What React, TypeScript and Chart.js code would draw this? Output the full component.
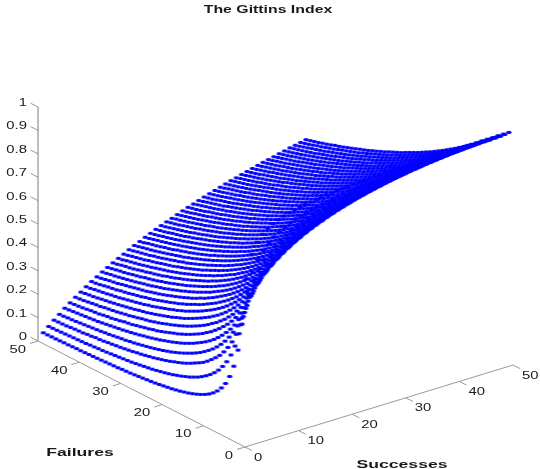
import React, { useEffect, useRef } from "react";
import { Chart, registerables } from "chart.js";

Chart.register(...registerables);

const titleText = "The Gittins Index";
const successLabel = "Successes";
const failureLabel = "Failures";
const indexTicks = [0, 0.1, 0.2, 0.3, 0.4, 0.5, 0.6, 0.7, 0.8, 0.9, 1];
const successTicks = [0, 10, 20, 30, 40, 50];
const failureTicks = [0, 10, 20, 30, 40, 50];

// Index values x1000, one list per success count (1..50), each running over failures 1..50.
// These are hand estimates: surface edges were read from the picture, while the dense
// interior, where single dots cannot be told apart, was estimated from the surface's shape.
const gittinsBySuccess = [
[703,500,380,302,249,210,182,160,143,129,118,109,101,94,88,83,78,74,70,67,64,61,58,56,54,52,50,48,46,45,44,42,41,40,39,38,37,36,35,34,33,33,32,31,31,30,29,29,28,28],
[800,635,516,434,372,325,287,258,233,213,196,182,169,158,149,140,133,126,120,114,109,104,100,96,92,89,86,83,80,77,75,73,71,69,67,65,63,62,60,59,57,56,55,54,53,52,51,50,49,48],
[845,707,601,518,456,406,365,332,304,280,261,244,228,214,203,193,183,174,166,159,153,146,140,135,130,125,121,117,113,110,106,103,100,97,95,92,90,87,85,84,81,80,77,76,75,73,71,70,69,68],
[872,754,658,581,519,468,426,390,360,334,311,291,273,258,244,231,220,210,201,192,184,177,170,164,158,153,148,143,139,135,131,127,124,120,118,115,112,109,107,104,102,100,98,96,94,92,90,89,87,86],
[890,787,700,627,566,516,474,437,405,378,355,334,315,298,283,270,258,247,236,227,218,210,203,196,190,184,178,173,168,163,159,154,150,146,143,139,136,133,130,127,124,121,119,117,115,113,111,109,107,105],
[904,812,732,668,610,560,518,481,449,421,396,374,355,337,321,306,293,280,269,259,249,240,232,224,218,211,204,198,192,188,182,178,173,169,164,161,158,153,150,146,144,141,137,135,133,130,127,125,123,121],
[914,831,755,700,645,596,554,518,485,457,432,409,389,370,354,338,325,311,299,288,278,268,259,251,243,236,229,223,216,210,205,199,195,191,186,182,177,174,170,166,163,160,157,153,151,148,145,142,140,138],
[922,846,774,725,675,628,587,551,518,490,465,442,421,402,384,368,353,340,327,316,305,295,285,276,267,260,253,245,239,233,227,221,216,210,206,202,197,193,189,185,181,178,174,171,168,164,161,159,156,153],
[929,859,794,744,698,655,615,579,547,519,493,470,449,429,412,395,380,366,353,341,330,319,309,300,291,282,275,267,261,254,248,242,236,230,226,220,216,211,207,203,199,194,191,188,184,181,178,175,171,169],
[934,870,809,764,719,677,638,605,572,544,518,496,474,455,436,420,404,390,377,364,353,342,331,321,313,304,295,288,280,274,267,261,255,249,243,238,234,228,224,220,215,211,208,203,200,197,193,189,186,184],
[939,879,823,779,737,697,660,626,595,567,542,518,497,477,459,442,427,412,399,386,374,362,352,341,333,323,314,307,299,292,285,279,272,266,260,255,250,244,240,236,232,227,223,219,214,211,208,204,200,197],
[944,887,835,793,752,714,679,645,615,587,563,539,518,499,479,463,447,432,418,405,393,382,371,360,351,342,333,325,317,310,302,296,289,283,276,271,266,260,255,251,246,241,237,233,229,225,221,218,214,211],
[947,893,846,806,766,729,695,663,634,606,582,558,537,517,499,482,466,451,437,424,411,399,389,378,368,359,350,342,334,326,318,312,305,299,292,286,281,275,270,265,261,255,251,247,242,238,235,231,227,223],
[950,898,855,817,779,743,710,679,650,623,599,576,556,536,518,501,485,470,455,442,429,417,406,395,385,376,366,358,350,342,334,327,320,314,307,301,296,289,284,279,275,269,265,260,255,251,248,244,239,236],
[952,902,863,826,790,755,724,694,665,639,615,593,572,552,534,517,501,486,471,459,446,433,423,412,401,392,382,374,365,357,349,342,335,328,321,315,309,303,298,293,288,282,278,273,268,264,260,256,251,248],
[955,907,870,835,800,767,737,708,680,654,631,608,588,568,550,533,517,502,487,474,461,449,438,427,416,407,397,389,380,372,363,356,349,342,335,329,323,316,311,306,301,295,290,286,280,276,272,268,263,259],
[957,911,877,844,810,778,748,720,693,668,644,622,602,582,564,547,531,517,502,489,476,464,452,442,431,421,411,403,394,386,377,370,362,355,348,341,336,329,324,318,313,307,302,298,292,288,284,280,275,271],
[960,915,883,851,819,788,759,731,705,680,657,635,615,596,578,561,545,530,516,503,490,478,466,456,445,435,425,416,407,399,390,383,375,368,361,354,348,341,336,330,325,319,314,309,304,299,295,291,286,282],
[962,919,889,858,827,797,769,742,716,692,669,648,628,609,591,575,559,544,530,516,503,491,479,469,458,448,438,429,420,412,403,396,387,380,373,366,360,353,348,342,337,330,325,321,315,310,306,302,296,292],
[964,922,894,864,834,805,778,751,727,703,680,659,639,621,603,587,571,556,542,529,516,503,492,481,470,460,451,441,432,424,415,408,399,392,385,378,371,365,359,353,347,342,336,331,326,321,317,312,307,303],
[966,925,898,870,841,813,786,760,736,712,690,670,651,632,614,599,583,568,554,540,528,515,504,493,483,472,462,453,444,435,427,418,411,403,396,389,382,376,370,364,358,352,347,341,336,331,327,321,317,313],
[968,928,902,875,847,820,794,768,745,722,701,680,661,643,626,609,594,579,566,552,539,527,515,504,493,483,473,464,454,446,438,429,422,414,407,400,393,387,381,374,368,363,356,351,346,342,336,331,327,323],
[969,931,906,880,852,826,801,777,753,731,709,689,671,653,635,620,604,590,576,563,550,537,526,514,504,493,484,475,465,457,448,440,433,425,418,410,403,397,391,384,378,373,366,361,356,351,346,341,336,332],
[970,933,909,884,858,832,807,784,761,739,719,699,680,662,645,629,614,599,586,572,560,548,537,525,515,504,495,485,476,467,458,451,442,435,428,420,413,407,401,394,388,383,376,371,366,361,355,350,346,341],
[971,935,912,888,862,837,813,791,768,747,726,707,689,671,654,639,623,609,595,583,569,558,546,535,524,514,504,495,486,477,468,460,452,445,437,430,423,416,409,404,398,391,386,380,375,369,364,359,355,349],
[972,938,915,892,867,843,819,797,775,754,735,715,697,680,663,647,633,618,605,591,579,567,556,545,534,524,514,504,495,486,478,469,462,453,446,439,433,425,419,413,406,400,395,389,383,378,373,368,363,358],
[973,940,918,895,871,847,824,802,782,762,742,722,705,688,671,656,641,627,613,600,588,576,565,553,543,532,523,513,504,496,487,479,470,463,455,449,441,434,428,421,415,409,404,397,392,387,382,376,371,367],
[974,942,920,898,874,852,830,808,788,768,748,730,712,695,679,663,649,635,622,608,596,585,573,562,551,542,532,522,513,504,496,487,479,472,463,457,450,443,436,430,424,417,411,406,401,394,389,384,380,375],
[974,944,922,902,879,857,835,814,793,774,755,736,718,702,686,671,656,643,629,617,605,593,582,570,560,550,540,531,521,513,504,495,488,480,472,465,458,451,444,438,432,425,420,414,408,403,398,393,388,382],
[975,946,925,904,882,860,839,818,799,780,761,743,726,709,694,678,664,650,637,625,612,601,589,579,568,558,548,539,529,521,512,504,496,488,481,474,466,459,453,446,440,434,428,421,416,411,406,401,395,390],
[976,948,927,907,885,864,844,824,804,785,767,749,732,716,700,686,671,658,645,632,620,608,597,587,576,566,556,546,538,529,520,512,504,496,489,481,474,467,461,454,448,442,435,429,424,419,413,407,403,398],
[977,949,929,910,889,868,848,828,808,790,772,755,738,722,707,692,678,665,651,639,627,616,605,593,583,574,563,554,546,536,528,520,511,504,497,489,482,475,468,461,455,449,443,437,432,426,420,415,410,405],
[977,950,931,912,891,871,851,832,814,795,778,760,743,728,712,698,685,671,659,646,634,623,611,601,591,580,571,562,552,544,536,527,519,512,503,496,489,482,475,469,462,456,450,445,438,433,428,422,417,412],
[978,951,933,914,894,874,855,837,818,800,783,765,749,733,719,705,691,678,665,653,641,629,618,608,597,588,578,568,560,551,542,534,526,518,511,504,496,489,483,476,469,463,458,451,445,440,435,430,424,419],
[978,952,934,916,897,878,858,840,822,805,787,771,754,739,724,710,697,683,671,659,647,636,625,614,604,595,585,576,567,557,549,541,533,525,518,510,503,496,489,483,477,471,464,458,452,447,441,436,431,426],
[979,953,936,918,899,880,861,843,826,809,792,775,760,745,730,716,702,690,678,665,654,643,631,621,611,601,591,583,573,564,556,547,540,532,524,517,510,502,496,490,484,477,471,465,459,453,448,443,438,433],
[980,954,937,920,901,883,865,847,830,813,796,780,765,749,736,721,708,696,683,671,660,648,638,628,617,607,598,588,580,571,562,554,547,538,531,524,516,509,503,497,489,483,477,472,465,460,454,449,444,438],
[980,955,939,922,904,886,867,850,834,817,801,785,769,755,740,727,714,701,689,677,665,654,644,633,623,614,604,595,586,577,569,561,552,545,538,530,523,516,510,502,496,490,484,477,472,466,461,456,450,445],
[981,956,940,924,905,888,871,854,837,821,805,789,774,759,745,732,718,706,694,682,671,660,649,639,629,619,610,601,592,583,575,566,559,551,543,536,529,521,515,509,502,495,490,484,478,473,466,461,456,451],
[981,957,941,925,908,891,873,856,840,824,808,793,778,764,750,736,724,711,699,688,676,665,655,644,634,625,615,606,598,589,580,573,565,557,549,542,534,528,521,515,508,502,496,490,485,478,473,468,462,457],
[982,958,943,927,909,892,875,859,843,828,812,797,782,768,754,741,728,716,704,692,681,671,660,650,640,630,621,612,603,594,586,579,570,563,555,547,541,534,527,520,514,508,502,495,490,484,479,474,468,463],
[982,959,943,928,912,895,878,862,847,831,815,801,786,772,759,745,733,721,709,697,687,675,665,655,645,636,627,617,609,600,591,584,576,569,560,553,547,539,533,526,520,513,507,501,496,490,484,479,474,469],
[983,960,945,930,913,897,880,864,849,834,819,804,790,776,762,750,738,725,714,703,691,681,671,660,650,641,631,623,614,605,597,589,581,573,566,559,552,545,538,532,525,519,513,507,501,495,490,485,479,474],
[983,961,946,931,915,899,883,867,852,837,822,808,793,780,767,753,741,730,717,706,696,686,675,665,656,646,637,628,619,611,603,595,586,579,572,564,557,551,544,537,531,525,519,512,506,501,496,490,485,479],
[984,962,947,932,916,900,884,869,854,840,826,810,797,784,770,758,746,733,722,711,700,690,680,669,660,651,641,632,624,616,607,599,592,584,577,570,563,555,549,542,536,530,523,518,512,507,501,495,490,485],
[984,963,948,933,918,903,887,872,857,842,828,814,800,787,774,761,749,738,726,715,705,694,684,674,665,655,646,638,629,620,612,605,596,589,582,574,567,561,554,548,541,535,529,523,517,511,506,500,495,490],
[984,964,949,935,919,904,888,874,859,846,831,817,803,790,777,765,753,741,730,719,708,698,688,679,669,660,651,642,633,625,618,609,602,594,586,579,573,566,559,552,546,540,534,527,522,516,511,506,501,496],
[985,965,949,935,921,906,891,876,862,848,834,820,806,793,781,768,756,745,733,723,713,703,692,683,674,664,655,647,638,630,622,614,607,598,591,584,577,570,564,557,551,545,538,533,527,522,516,511,505,500],
[985,966,950,937,922,907,892,878,864,851,837,822,809,797,784,772,760,748,738,727,716,706,697,687,677,668,660,651,642,634,626,619,611,603,596,588,582,575,569,563,556,549,544,538,532,527,521,515,510,505],
[985,967,951,938,923,909,894,880,866,852,839,825,812,799,787,775,763,752,741,730,720,710,700,691,682,673,663,655,647,639,630,623,615,608,600,593,587,580,573,567,560,554,549,542,536,531,525,520,515,510],
];

// Oblique view of the 3D box, in view units of the hidden linear scales.
const SX = 5.36, SY = 1.64, FX = -4.14, FY = 2.12, ZY = 234;
const viewX = (s: number, f: number) => s * SX + f * FX;
const viewY = (s: number, f: number, z: number) => z * ZY + s * SY + f * FY;
const pt = (s: number, f: number, z: number) => ({ x: viewX(s, f), y: viewY(s, f, z) });

const AXIS = "#9a9a9a";
const FONT = '"Liberation Sans", Arial, sans-serif';

// The reference's markers are wide, soft ellipses, so each curve reads as a strand.
function makeMarker() {
  const c = document.createElement("canvas");
  c.width = 8;
  c.height = 5;
  const g = c.getContext("2d") as CanvasRenderingContext2D;
  g.translate(4, 2.5);
  g.scale(3.5, 2.0);
  const grad = g.createRadialGradient(0, 0, 0, 0, 0, 1);
  grad.addColorStop(0, "rgba(0,0,255,1)");
  grad.addColorStop(0.55, "rgba(0,0,255,1)");
  grad.addColorStop(1, "rgba(0,0,255,0)");
  g.fillStyle = grad;
  g.beginPath();
  g.arc(0, 0, 1, 0, Math.PI * 2);
  g.fill();
  return c;
}

const axisLine = (a: any, b: any, color = AXIS) => ({
  data: [a, b],
  showLine: true,
  borderColor: color,
  borderWidth: 1,
  pointRadius: 0,
  order: 5,
});

function buildDatasets() {
  const marker = makeMarker();
  const curves = gittinsBySuccess.map((row, i) => ({
    data: row.map((v, j) => pt(i + 1, j + 1, v / 1000)),
    showLine: false,
    pointStyle: marker,
    pointRadius: 3,
    backgroundColor: "#0000ff",
    borderColor: "#0000ff",
    order: 1,
  }));
  const maxS = successTicks[successTicks.length - 1];
  const maxF = failureTicks[failureTicks.length - 1];
  const axes = [
    axisLine(pt(0, 0, 0), pt(maxS, 0, 0)),
    axisLine(pt(0, 0, 0), pt(0, maxF, 0)),
    axisLine(pt(0, maxF, 0), pt(0, maxF, 1), "#7c7c7c"),
    ...successTicks.map((s) => axisLine(pt(s, 0, 0), pt(s, -1.7, 0))),
    ...failureTicks.map((f) => axisLine(pt(0, f, 0), pt(-1.5, f, 0))),
    ...indexTicks.map((z) => axisLine(pt(0, 50, z), pt(0, 51.8, z))),
  ];
  return [...axes, ...curves];
}

function wideText(ctx: any, text: string, x: number, y: number, align: string, font: string, stretch: number) {
  ctx.save();
  ctx.font = font;
  ctx.fillStyle = "#1a1a1a";
  ctx.textBaseline = "middle";
  ctx.textAlign = align;
  ctx.translate(x, y + 1);
  ctx.scale(stretch, 1);
  ctx.fillText(text, 0, 0);
  ctx.restore();
}

const textPlugin = {
  id: "boxText",
  afterDatasetsDraw(chart: any) {
    const { ctx, scales } = chart;
    const px = (p: any) => [scales.x.getPixelForValue(p.x), scales.y.getPixelForValue(p.y)];
    const tickFont = `11px ${FONT}`;
    const boldFont = `bold 11px ${FONT}`;
    indexTicks.forEach((z) => {
      const [x, y] = px(pt(0, 50, z));
      wideText(ctx, String(z), x - 11, y - 5, "right", tickFont, 1.35);
    });
    failureTicks.forEach((f) => {
      const [x, y] = px(pt(0, f, 0));
      wideText(ctx, String(f), x - 12, y + 7.5, "right", tickFont, 1.35);
    });
    successTicks.forEach((s) => {
      const [x, y] = px(pt(s, 0, 0));
      wideText(ctx, String(s), x + 9, y + 9.5, "left", tickFont, 1.35);
    });
    wideText(ctx, titleText, chart.width / 2 - 2, 9, "center", boldFont, 1.44);
    wideText(ctx, failureLabel, 80, 452, "center", boldFont, 1.6);
    wideText(ctx, successLabel, 402, 464, "center", boldFont, 1.6);
  },
};

export default function App() {
  const ref = useRef<HTMLCanvasElement>(null);
  useEffect(() => {
    const chart = new Chart(ref.current as HTMLCanvasElement, {
      type: "scatter",
      data: { datasets: buildDatasets() as any },
      options: {
        animation: false,
        responsive: false,
        layout: { padding: 0, autoPadding: false },
        plugins: { legend: { display: false }, tooltip: { enabled: false }, title: { display: false } },
        scales: {
          x: { type: "linear", min: -245, max: 295, display: false },
          y: { type: "linear", min: -22, max: 447, display: false },
        },
      },
      plugins: [textPlugin],
    } as any);
    return () => chart.destroy();
  }, []);
  return (
    <canvas
      ref={ref}
      width={540}
      height={469}
      style={{ position: "absolute", left: 0, top: 0, width: 540, height: 469 }}
    />
  );
}
